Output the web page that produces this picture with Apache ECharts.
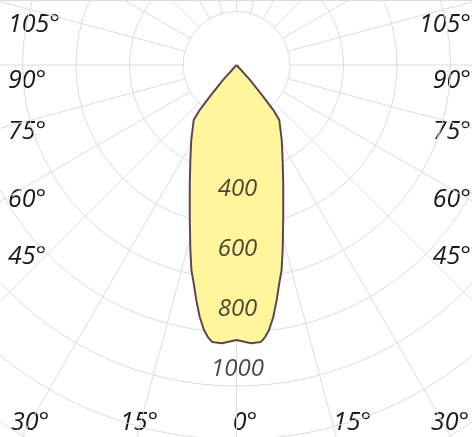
<!DOCTYPE html>
<html lang="en">
<head>
  <meta charset="UTF-8">
  <title>Polar intensity</title>
  <script src="https://cdn.jsdelivr.net/npm/echarts@6/dist/echarts.min.js"></script>
  <style>
    html, body { margin: 0; padding: 0; background: #fff; }
  </style>
</head>
<body>
<div id="main" style="width:472px;height:437px;"></div>
<script type="text/javascript">
  // gamma angle (deg from nadir) and intensity (cd)
  var gammaDeg = [0, 3, 5, 6, 7, 8.3, 9.7, 11.1, 12.4, 14, 17.2, 21.6, 25.9, 31.1, 37.9, 39.3, 40.2, 42, 45];
  var intensity = [917, 929, 927, 912, 890, 849, 795, 741, 700, 636, 527, 423, 352, 292, 232, 194, 138, 67, 0];

  // radius tick labels (cd)
  var radiusTicks = [400, 600, 800, 1000];

  // angle labels round the border
  var sideLabels = ['105°', '90°', '75°', '60°', '45°'];
  var bottomLabels = ['30°', '15°', '0°', '15°', '30°'];

  var chartDom = document.getElementById('main');
  var myChart = echarts.init(chartDom);
  var option;

  // both halves of the curve (symmetric)
  var curve = [];
  for (var i = gammaDeg.length - 1; i >= 0; i--) {
    curve.push([intensity[i], gammaDeg[i]]);
  }
  for (var j = 1; j < gammaDeg.length; j++) {
    curve.push([intensity[j], 360 - gammaDeg[j]]);
  }

  var labelFont = {
    fontFamily: 'Open Sans',
    fontStyle: 'italic',
    fontWeight: 'normal',
    fontSize: 25,
    fill: '#1a1a1a',
    verticalAlign: 'middle'
  };

  var sideY = [22, 78, 129, 197, 254];
  var bottomX = [30, 139, 245, 352, 450];
  var graphics = [{
    type: 'line',
    shape: { x1: 0, y1: 0.5, x2: 472, y2: 0.5 },
    style: { stroke: '#dedede', lineWidth: 1 }
  }];
  sideLabels.forEach(function (t, k) {
    graphics.push({
      type: 'text', x: 8, y: sideY[k] + 3,
      style: Object.assign({ text: t, align: 'left' }, labelFont)
    });
    graphics.push({
      type: 'text', x: 471, y: sideY[k] + 3,
      style: Object.assign({ text: t, align: 'right' }, labelFont)
    });
  });
  bottomLabels.forEach(function (t, k) {
    graphics.push({
      type: 'text', x: bottomX[k], y: 423,
      style: Object.assign({ text: t, align: 'center' }, labelFont)
    });
  });

  option = {
    animation: false,
    polar: [
      { center: [236.5, 65], radius: [53.5, 481.5] },
      { center: [236.5, 65], radius: [0, 300] }
    ],
    angleAxis: [
      {
        polarIndex: 0, type: 'value', min: 0, max: 360, interval: 15, startAngle: 270,
        axisLine: { show: false }, axisTick: { show: false }, axisLabel: { show: false },
        splitLine: { show: true, lineStyle: { color: '#dcdcdc', width: 1 } }
      },
      {
        polarIndex: 1, type: 'value', min: 0, max: 360, startAngle: 270,
        axisLine: { show: false }, axisTick: { show: false }, axisLabel: { show: false },
        splitLine: { show: false }
      }
    ],
    radiusAxis: [
      {
        polarIndex: 0, type: 'value', min: 1, max: 9, interval: 1,
        axisLine: { show: false }, axisTick: { show: false }, axisLabel: { show: false },
        splitLine: { show: true, lineStyle: { color: '#dcdcdc', width: 1 } }
      },
      {
        polarIndex: 1, type: 'value', min: 0, max: 1000,
        axisLine: { show: false }, axisTick: { show: false }, axisLabel: { show: false },
        splitLine: { show: false }
      }
    ],
    graphic: graphics,
    series: [
      {
        type: 'line',
        coordinateSystem: 'polar',
        polarIndex: 1,
        symbol: 'none',
        smooth: false,
        lineStyle: { color: '#5b4754', width: 2 },
        areaStyle: { color: '#fff69c', opacity: 1 },
        data: curve,
        z: 3
      },
      {
        type: 'scatter',
        coordinateSystem: 'polar',
        polarIndex: 1,
        symbolSize: 1,
        itemStyle: { color: 'transparent' },
        label: {
          show: true,
          position: 'inside',
          offset: [1, 4],
          formatter: function (p) { return String(p.value[0]); },
          fontFamily: 'Open Sans',
          fontStyle: 'italic',
          fontWeight: 'normal',
          fontSize: 24,
          color: '#1a1a1a'
        },
        data: radiusTicks.map(function (v) { return [v, 0]; }),
        z: 5
      }
    ]
  };

  option && myChart.setOption(option);
</script>
</body>
</html>
